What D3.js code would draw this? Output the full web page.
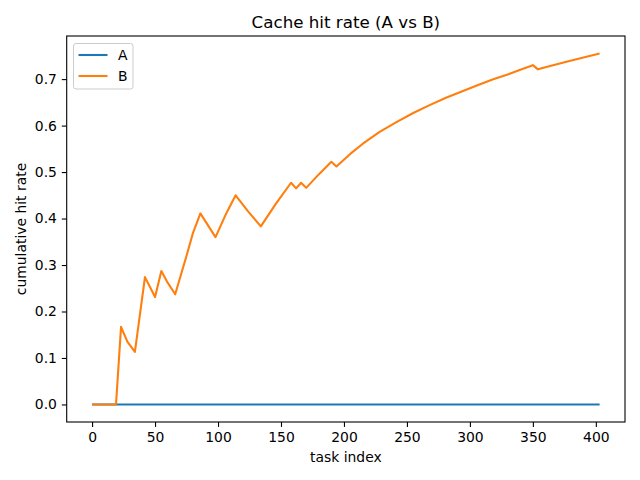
<!DOCTYPE html>
<html>
<head>
<meta charset="utf-8">
<script src="https://cdn.jsdelivr.net/npm/d3@7"></script>
<style>
  body { margin: 0; background: #fff; }
  svg { font-family: "DejaVu Sans", sans-serif; }
  .tick text { font-size: 13.9px; fill: #000; }
  .tick line, .domain { stroke: #000; stroke-width: 1.1px; }
</style>
</head>
<body>
<svg width="640" height="480"></svg>
<script>
// series A: flat at zero across all tasks
var taskA = [0, 403];
var rateA = [0, 0];

// series B: vertices
var taskB = [0, 19, 23, 28, 34, 42, 50, 55, 60, 66, 75, 80, 86, 98, 106, 114, 124, 134,
             146, 158, 162, 166, 170, 180, 190, 194, 205, 215, 228, 242, 255, 268,
             281, 294, 306, 318, 330, 340, 350, 354, 366, 379, 391, 403];
var rateB = [0, 0, 0.167, 0.135, 0.113, 0.274, 0.231, 0.287, 0.262, 0.237, 0.320, 0.368,
             0.411, 0.360, 0.408, 0.450, 0.415, 0.383, 0.432, 0.477, 0.465, 0.477, 0.466,
             0.495, 0.522, 0.512, 0.539, 0.561, 0.586, 0.608, 0.627, 0.644, 0.660, 0.674,
             0.687, 0.699, 0.710, 0.720, 0.730, 0.721, 0.730, 0.739, 0.747, 0.755];

var xTicks = [0, 50, 100, 150, 200, 250, 300, 350, 400];
var yTicks = [0.0, 0.1, 0.2, 0.3, 0.4, 0.5, 0.6, 0.7];

var svg = d3.select('svg');
var box = {l: 66.7, r: 625, t: 36, b: 422};

// matplotlib-style 5% margins
var xMin = 0, xMax = d3.max(taskB);
var yMin = 0, yMax = d3.max(rateB);
var xPad = (xMax - xMin) * 0.05, yPad = (yMax - yMin) * 0.05;

var x = d3.scaleLinear().domain([xMin - xPad, xMax + xPad]).range([box.l, box.r]);
var y = d3.scaleLinear().domain([yMin - yPad, yMax + yPad]).range([box.b, box.t]);

var line = d3.line()
    .x(function(d){ return x(d[0]); })
    .y(function(d){ return y(d[1]); });

var seriesA = taskA.map(function(t, i){ return [t, rateA[i]]; });
var seriesB = taskB.map(function(t, i){ return [t, rateB[i]]; });

svg.append('path')
    .datum(seriesA)
    .attr('d', line)
    .attr('fill', 'none')
    .attr('stroke', '#1f77b4')
    .attr('stroke-width', 2.1);

svg.append('path')
    .datum(seriesB)
    .attr('d', line)
    .attr('fill', 'none')
    .attr('stroke', '#ff7f0e')
    .attr('stroke-width', 2.1)
    .attr('stroke-linejoin', 'round');

// axes
var xAxis = d3.axisBottom(x).tickValues(xTicks).tickFormat(d3.format('d'))
    .tickSizeInner(4.9).tickSizeOuter(0).tickPadding(4.9);
var yAxis = d3.axisLeft(y).tickValues(yTicks).tickFormat(d3.format('.1f'))
    .tickSizeInner(4.9).tickSizeOuter(0).tickPadding(4.9);

svg.append('g')
    .attr('transform', 'translate(0,' + box.b + ')')
    .call(xAxis)
    .call(function(g){ g.select('.domain').remove(); });

svg.append('g')
    .attr('transform', 'translate(' + box.l + ',0)')
    .call(yAxis)
    .call(function(g){ g.select('.domain').remove(); });

svg.selectAll('.tick text').attr('font-family', '"DejaVu Sans", sans-serif');

// frame
svg.append('rect')
    .attr('x', box.l).attr('y', box.t)
    .attr('width', box.r - box.l).attr('height', box.b - box.t)
    .attr('fill', 'none')
    .attr('stroke', '#000')
    .attr('stroke-width', 1.1);

// title and labels
svg.append('text')
    .attr('x', (box.l + box.r) / 2).attr('y', 27.7)
    .attr('text-anchor', 'middle')
    .attr('font-size', 16.7)
    .text('Cache hit rate (A vs B)');

svg.append('text')
    .attr('x', (box.l + box.r) / 2).attr('y', 462)
    .attr('text-anchor', 'middle')
    .attr('font-size', 13.9)
    .text('task index');

svg.append('text')
    .attr('transform', 'translate(26,' + (box.t + box.b) / 2 + ') rotate(-90)')
    .attr('text-anchor', 'middle')
    .attr('font-size', 13.9)
    .text('cumulative hit rate');

// legend
var legend = svg.append('g').attr('transform', 'translate(73.5,43.5)');
legend.append('rect')
    .attr('width', 59.5).attr('height', 45.5)
    .attr('rx', 2.5)
    .attr('fill', '#fff')
    .attr('fill-opacity', 0.8)
    .attr('stroke', '#ccc');

var legendItems = [{name: 'A', color: '#1f77b4'}, {name: 'B', color: '#ff7f0e'}];
legendItems.forEach(function(d, i){
    var cy = 11.5 + i * 21;
    legend.append('line')
        .attr('x1', 5).attr('x2', 34)
        .attr('y1', cy).attr('y2', cy)
        .attr('stroke', d.color)
        .attr('stroke-width', 2.1);
    legend.append('text')
        .attr('x', 44.5).attr('y', cy + 5)
        .attr('font-size', 13.9)
        .text(d.name);
});
</script>
</body>
</html>
